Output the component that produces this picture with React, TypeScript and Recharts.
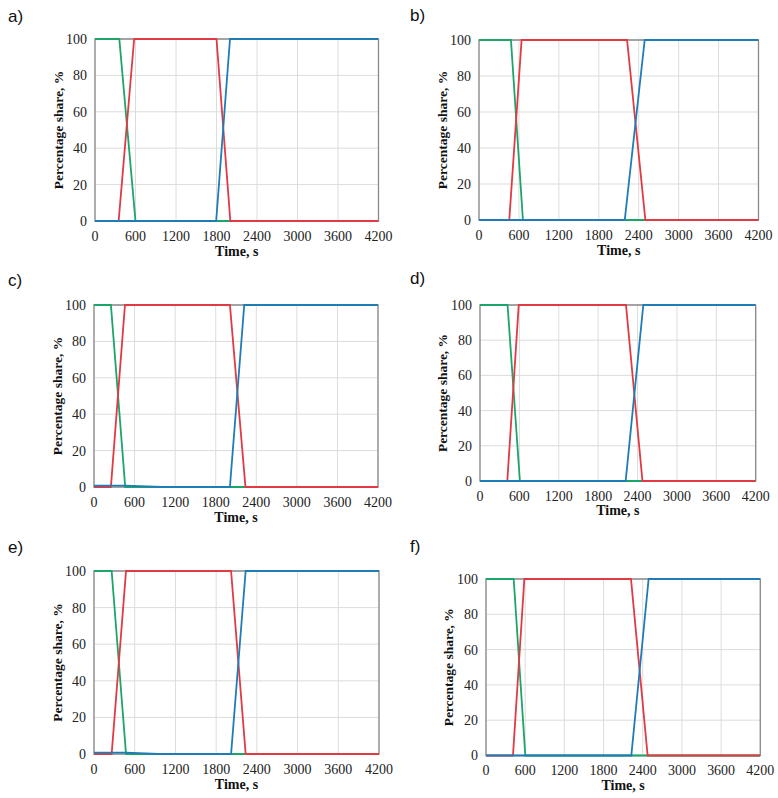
import React from 'react';
import { LineChart, Line, XAxis, YAxis, CartesianGrid, ReferenceArea, Label } from 'recharts';

type Pt = { t: number; v: number };
const pts = (rows: number[][]): Pt[] => rows.map(([t, v]) => ({ t, v }));

// Shared axis ticks
const timeTicks = [0, 600, 1200, 1800, 2400, 3000, 3600, 4200];
const shareTicks = [0, 20, 40, 60, 80, 100];

// Series breakpoints per case: [time s, share %]
const aGreen = [[0, 100], [360, 100], [600, 0], [4200, 0]];
const aRed = [[0, 0], [350, 0], [580, 100], [1800, 100], [2005, 0], [4200, 0]];
const aBlue = [[0, 0], [1795, 0], [2000, 100], [4200, 100]];

const bGreen = [[0, 100], [480, 100], [660, 0], [4200, 0]];
const bRed = [[0, 0], [455, 0], [640, 100], [2225, 100], [2500, 0], [4200, 0]];
const bBlue = [[0, 0], [2190, 0], [2490, 100], [4200, 100]];

const cGreen = [[0, 100], [250, 100], [462, 0], [4200, 0]];
const cRed = [[0, 0], [250, 0], [458, 100], [2010, 100], [2240, 0], [4200, 0]];
const cBlue = [[0, 0.8], [460, 0.8], [1000, 0], [2010, 0], [2222, 100], [4200, 100]];

const dGreen = [[0, 100], [420, 100], [608, 0], [4200, 0]];
const dRed = [[0, 0], [416, 0], [590, 100], [2224, 100], [2475, 0], [4200, 0]];
const dBlue = [[0, 0], [2219, 0], [2488, 100], [4200, 100]];

const eGreen = [[0, 100], [260, 100], [472, 0], [4200, 0]];
const eRed = [[0, 0], [260, 0], [472, 100], [2020, 100], [2235, 0], [4200, 0]];
const eBlue = [[0, 0.8], [470, 0.8], [950, 0], [2020, 0], [2235, 100], [4200, 100]];

const fGreen = [[0, 100], [424, 100], [602, 0], [4200, 0]];
const fRed = [[0, 0], [413, 0], [587, 100], [2220, 100], [2475, 0], [4200, 0]];
const fBlue = [[0, 0], [2225, 0], [2490, 100], [4200, 100]];

const GREEN = '#1ba56b';
const RED = '#e23a43';
const BLUE = '#1f7cb6';

const SERIF = '"Liberation Serif", "Times New Roman", serif';

type PanelDef = {
  tag: string;
  tagX: number;
  tagY: number;
  box: { l: number; t: number; r: number; b: number };
  green: number[][];
  red: number[][];
  blue: number[][];
};

const panels: PanelDef[] = [
  { tag: 'a)', tagX: 8, tagY: 23, box: { l: 94.5, t: 39, r: 378, b: 221 }, green: aGreen, red: aRed, blue: aBlue },
  { tag: 'b)', tagX: 410, tagY: 22, box: { l: 478.5, t: 40, r: 758, b: 220 }, green: bGreen, red: bRed, blue: bBlue },
  { tag: 'c)', tagX: 8, tagY: 287, box: { l: 94, t: 305, r: 378, b: 487 }, green: cGreen, red: cRed, blue: cBlue },
  { tag: 'd)', tagX: 410, tagY: 285, box: { l: 480, t: 305, r: 755.7, b: 481 }, green: dGreen, red: dRed, blue: dBlue },
  { tag: 'e)', tagX: 8, tagY: 554, box: { l: 94, t: 571, r: 379, b: 754 }, green: eGreen, red: eRed, blue: eBlue },
  { tag: 'f)', tagX: 410, tagY: 553, box: { l: 485.7, t: 579, r: 760, b: 755.5 }, green: fGreen, red: fRed, blue: fBlue },
];

const ML = 60;
const MT = 10;
const MR = 24;
const XH = 45;

const XTick = (props: any) => {
  const { x, y, payload } = props;
  return (
    <text x={x} y={y + 10} textAnchor="middle" fontFamily={SERIF} fontSize={14} fill="#222">
      {payload.value}
    </text>
  );
};

const YTick = (props: any) => {
  const { x, y, payload } = props;
  return (
    <text x={x} y={y + 5} textAnchor="end" fontFamily={SERIF} fontSize={14} fill="#222">
      {payload.value}
    </text>
  );
};

const YTitle = (props: any) => {
  const vb = props.viewBox || {};
  const x = vb.x + vb.width - 37;
  const y = vb.y + vb.height / 2;
  return (
    <text
      x={x}
      y={y}
      transform={`rotate(-90, ${x}, ${y})`}
      textAnchor="middle"
      dominantBaseline="central"
      fontFamily={SERIF}
      fontWeight="bold"
      fontSize={13.5}
      fill="#111"
    >
      Percentage share, %
    </text>
  );
};

const XTitle = (props: any) => {
  const vb = props.viewBox || {};
  const x = vb.x + vb.width / 2;
  const y = vb.y + 30;
  return (
    <text x={x} y={y} textAnchor="middle" dominantBaseline="central" fontFamily={SERIF} fontWeight="bold" fontSize={14} fill="#111">
      Time, s
    </text>
  );
};

const Panel = ({ p }: { p: PanelDef }) => {
  const w = p.box.r - p.box.l + ML + MR;
  const h = p.box.b - p.box.t + MT + XH;
  return (
    <>
      <div
        style={{
          position: 'absolute',
          left: p.tagX,
          top: p.tagY - 16,
          fontFamily: '"Liberation Sans", Arial, sans-serif',
          fontSize: 17,
          lineHeight: '20px',
          color: '#111',
        }}
      >
        {p.tag}
      </div>
      <div style={{ position: 'absolute', left: p.box.l - ML, top: p.box.t - MT }}>
        <LineChart width={w} height={h} margin={{ top: MT, right: MR, left: 0, bottom: 0 }}>
          <CartesianGrid stroke="#dcdcdc" strokeWidth={1} />
          <XAxis
            dataKey="t"
            type="number"
            domain={[0, 4200]}
            ticks={timeTicks}
            interval={0}
            tickLine={false}
            axisLine={false}
            tickMargin={4}
            height={XH}
            tick={<XTick />}
            allowDataOverflow
          >
            <Label content={<XTitle />} />
          </XAxis>
          <YAxis
            type="number"
            domain={[0, 100]}
            ticks={shareTicks}
            interval={0}
            tickLine={false}
            axisLine={false}
            width={ML}
            tick={<YTick />}
          >
            <Label content={<YTitle />} />
          </YAxis>
          <ReferenceArea x1={0} x2={4200} y1={0} y2={100} fill="none" stroke="#8a8a8a" strokeWidth={1.3} fillOpacity={0} />
          <Line data={pts(p.green)} dataKey="v" type="linear" stroke={GREEN} strokeWidth={1.8} dot={false} isAnimationActive={false} />
          <Line data={pts(p.red)} dataKey="v" type="linear" stroke={RED} strokeWidth={1.8} dot={false} isAnimationActive={false} />
          <Line data={pts(p.blue)} dataKey="v" type="linear" stroke={BLUE} strokeWidth={1.8} dot={false} isAnimationActive={false} />
        </LineChart>
      </div>
    </>
  );
};

export default function App() {
  return (
    <div style={{ position: 'absolute', left: 0, top: 0, width: 778, height: 798, background: '#fff', overflow: 'hidden' }}>
      {panels.map((p) => (
        <Panel key={p.tag} p={p} />
      ))}
    </div>
  );
}
